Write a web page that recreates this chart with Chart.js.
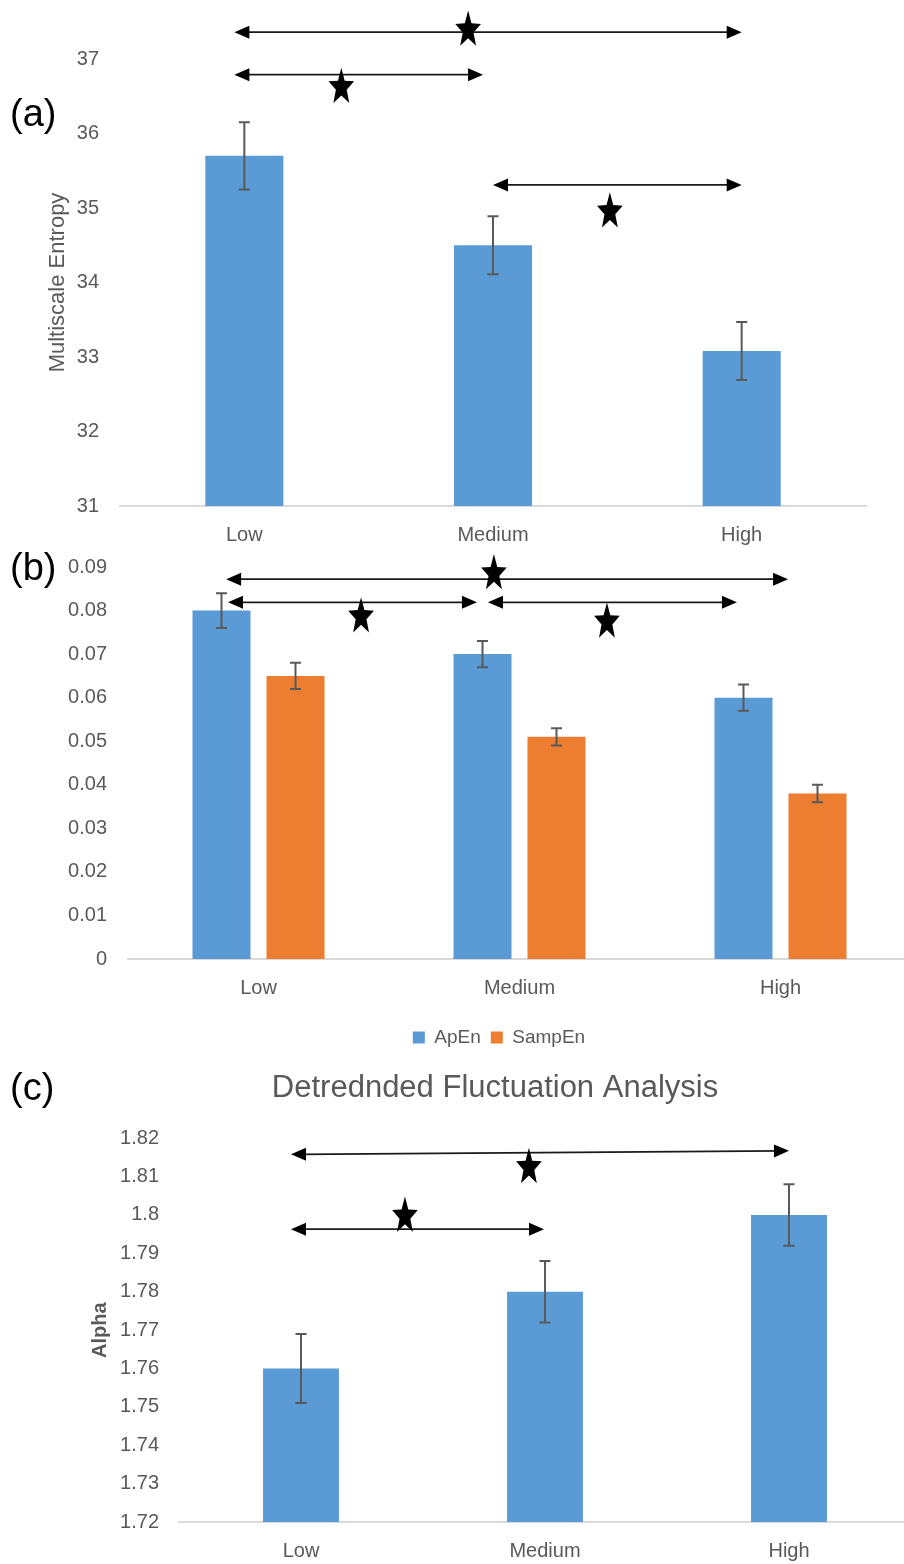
<!DOCTYPE html>
<html>
<head>
<meta charset="utf-8">
<script src="https://cdn.jsdelivr.net/npm/chart.js@4.4.1/dist/chart.umd.min.js"></script>
<style>
  html, body { margin: 0; padding: 0; width: 904px; height: 1564px; overflow: hidden; background: #fff; }
  .panel { position: absolute; left: 0; width: 920px; }
  .tag { position: absolute; left: 10px; font-family: "Liberation Sans", Arial, sans-serif; font-size: 38px; line-height: 38px; color: #000; }
</style>
</head>
<body>
<div class="panel" style="top:0;height:548px"><canvas id="chartA" width="920" height="548"></canvas></div>
<div class="panel" style="top:534px;height:523px"><canvas id="chartB" width="920" height="523"></canvas></div>
<div class="panel" style="top:1064px;height:500px"><canvas id="chartC" width="920" height="500"></canvas></div>
<div class="tag" style="top:94px">(a)</div>
<div class="tag" style="top:548px">(b)</div>
<div class="tag" style="top:1068px">(c)</div>

<script>
var levels = ["Low", "Medium", "High"];

// (a) multiscale entropy
var mseValues = [35.7, 34.5, 33.08];
var mseErrors = [0.45, 0.39, 0.39];
var mseRange = [31, 37, 1];

// (b) approximate / sample entropy
var apenValues = [0.08, 0.07, 0.06];
var apenErrors = [0.004, 0.003, 0.003];
var sampenValues = [0.065, 0.051, 0.038];
var sampenErrors = [0.003, 0.002, 0.002];
var entRange = [0, 0.09, 0.01];

// (c) DFA alpha
var dfaValues = [1.76, 1.78, 1.80];
var dfaErrors = [0.009, 0.008, 0.008];
var dfaRange = [1.72, 1.82, 0.01];

// significance arrows: [from, to, y at left, y at right, star x, star y] (category index / value units)
var mseBrackets = [
  [-0.04, 2.0, 37.36, 37.36, 0.9, 37.39],
  [-0.04, 0.96, 36.79, 36.79, 0.39, 36.62],
  [1.0, 2.0, 35.31, 35.31, 1.47, 34.95]
];
var entBrackets = [
  [-0.124, 2.029, 0.0872, 0.0872, 0.902, 0.0885],
  [-0.117, 0.837, 0.0819, 0.0819, 0.393, 0.0786],
  [0.879, 1.833, 0.0819, 0.0819, 1.335, 0.0774]
];
var dfaBrackets = [
  [-0.041, 2.0, 1.8158, 1.8167, 0.934, 1.8124],
  [-0.041, 0.996, 1.7963, 1.7963, 0.426, 1.7997]
];

var BLUE = "#5B9BD5", ORANGE = "#ED7D31", GREY = "#595959";
var FONT = "'Liberation Sans', Arial, sans-serif";
Chart.defaults.font.family = FONT;
Chart.defaults.color = GREY;
Chart.defaults.animation = false;

var errorBars = {
  id: 'errorBars',
  afterDatasetsDraw: function (chart) {
    var ctx = chart.ctx, y = chart.scales.y;
    chart.data.datasets.forEach(function (ds, i) {
      chart.getDatasetMeta(i).data.forEach(function (bar, j) {
        var top = y.getPixelForValue(ds.data[j] + ds.errors[j]);
        var bot = y.getPixelForValue(ds.data[j] - ds.errors[j]);
        ctx.save();
        ctx.strokeStyle = GREY;
        ctx.lineWidth = 2;
        ctx.beginPath();
        ctx.moveTo(bar.x, top); ctx.lineTo(bar.x, bot);
        ctx.moveTo(bar.x - 5.5, top); ctx.lineTo(bar.x + 5.5, top);
        ctx.moveTo(bar.x - 5.5, bot); ctx.lineTo(bar.x + 5.5, bot);
        ctx.stroke();
        ctx.restore();
      });
    });
  }
};

function drawStar(ctx, cx, cy, sx, sy) {
  ctx.beginPath();
  for (var k = 0; k < 10; k++) {
    var r = k % 2 ? 0.42 : 1;
    var a = -Math.PI / 2 + k * Math.PI / 5;
    var px = cx + Math.cos(a) * r * sx, py = cy + Math.sin(a) * r * sy;
    if (k) ctx.lineTo(px, py); else ctx.moveTo(px, py);
  }
  ctx.closePath();
  ctx.fill();
}

function drawHead(ctx, x, y, ang) {
  ctx.beginPath();
  ctx.moveTo(x, y);
  ctx.lineTo(x - 15 * Math.cos(ang) + 6.5 * Math.sin(ang), y - 15 * Math.sin(ang) - 6.5 * Math.cos(ang));
  ctx.lineTo(x - 15 * Math.cos(ang) - 6.5 * Math.sin(ang), y - 15 * Math.sin(ang) + 6.5 * Math.cos(ang));
  ctx.closePath();
  ctx.fill();
}

var brackets = {
  id: 'brackets',
  afterDraw: function (chart, args, opts) {
    var ctx = chart.ctx, xs = chart.scales.x, ys = chart.scales.y;
    (opts.list || []).forEach(function (b) {
      var x1 = xs.getPixelForValue(b[0]), x2 = xs.getPixelForValue(b[1]);
      var y1 = ys.getPixelForValue(b[2]), y2 = ys.getPixelForValue(b[3]);
      var ang = Math.atan2(y2 - y1, x2 - x1);
      ctx.save();
      ctx.strokeStyle = '#1a1a1a';
      ctx.fillStyle = '#000';
      ctx.lineWidth = 1.8;
      ctx.beginPath();
      ctx.moveTo(x1 + 8, y1);
      ctx.lineTo(x2 - 8, y2);
      ctx.stroke();
      drawHead(ctx, x2, y2, ang);
      drawHead(ctx, x1, y1, ang + Math.PI);
      drawStar(ctx, xs.getPixelForValue(b[4]), ys.getPixelForValue(b[5]), 13.5, 19.5);
      ctx.restore();
    });
  }
};

// centre the legend of (b) under the plot like the original, not under the whole canvas
var legendShift = {
  id: 'legendShift',
  afterLayout: function (chart, args, opts) {
    if (chart.legend) chart.legend.left += opts.by || 0;
  }
};

function tickText(v) { return String(+v.toFixed(3)); }

function xAxis(h) {
  return {
    grid: { display: false, drawTicks: false },
    border: { color: '#d9d9d9', width: 2 },
    ticks: { padding: 17, font: { size: 20 }, color: GREY },
    afterFit: function (s) { s.height = h; }
  };
}

function yAxis(range, w, pad, title) {
  return {
    min: range[0], max: range[1],
    grid: { display: false, drawTicks: false },
    border: { display: false },
    ticks: { stepSize: range[2], padding: pad, font: { size: 20 }, color: GREY, callback: tickText },
    title: title,
    afterFit: function (s) { s.width = w; }
  };
}

// (a)
new Chart("chartA", {
  type: "bar",
  data: {
    labels: levels,
    datasets: [{ label: "MSE", data: mseValues, errors: mseErrors, backgroundColor: BLUE,
      categoryPercentage: 1, barPercentage: 0.314 }]
  },
  options: {
    responsive: false,
    layout: { padding: { left: 0, right: 54, top: 59, bottom: 2 } },
    scales: {
      x: xAxis(40),
      y: yAxis(mseRange, 120, 21, { display: true, text: "Multiscale Entropy", font: { size: 22 }, color: GREY, padding: { top: 45, bottom: 0 } })
    },
    plugins: { legend: { display: false }, tooltip: { enabled: false }, brackets: { list: mseBrackets } }
  },
  plugins: [errorBars, brackets]
});

// (b)
new Chart("chartB", {
  type: "bar",
  data: {
    labels: levels,
    datasets: [
      { label: "ApEn", data: apenValues, errors: apenErrors, backgroundColor: BLUE,
        categoryPercentage: 0.567, barPercentage: 0.784 },
      { label: "SampEn", data: sampenValues, errors: sampenErrors, backgroundColor: ORANGE,
        categoryPercentage: 0.567, barPercentage: 0.784 }
    ]
  },
  options: {
    responsive: false,
    layout: { padding: { left: 0, right: 9, top: 18, bottom: 0 } },
    scales: {
      x: xAxis(59),
      y: yAxis(entRange, 128, 21, { display: false })
    },
    plugins: {
      legend: { display: true, position: "bottom",
        labels: { boxWidth: 12, boxHeight: 12, padding: 10, font: { size: 19 }, color: GREY } },
      legendShift: { by: 87 },
      tooltip: { enabled: false },
      brackets: { list: entBrackets }
    }
  },
  plugins: [errorBars, brackets, legendShift]
});

// (c)
new Chart("chartC", {
  type: "bar",
  data: {
    labels: levels,
    datasets: [{ label: "DFA", data: dfaValues, errors: dfaErrors, backgroundColor: BLUE,
      categoryPercentage: 1, barPercentage: 0.311 }]
  },
  options: {
    responsive: false,
    layout: { padding: { left: 79, right: 9, top: 0, bottom: 2 } },
    scales: {
      x: xAxis(40),
      y: yAxis(dfaRange, 100, 20, { display: true, text: "Alpha", font: { size: 20, weight: "bold" }, color: GREY, padding: { top: 9, bottom: 0 } })
    },
    plugins: {
      legend: { display: false },
      tooltip: { enabled: false },
      title: { display: true, text: "Detrednded Fluctuation Analysis", font: { size: 31, weight: "normal" }, color: GREY, padding: { top: 6, bottom: 31 } },
      brackets: { list: dfaBrackets }
    }
  },
  plugins: [errorBars, brackets]
});
</script>
</body>
</html>
